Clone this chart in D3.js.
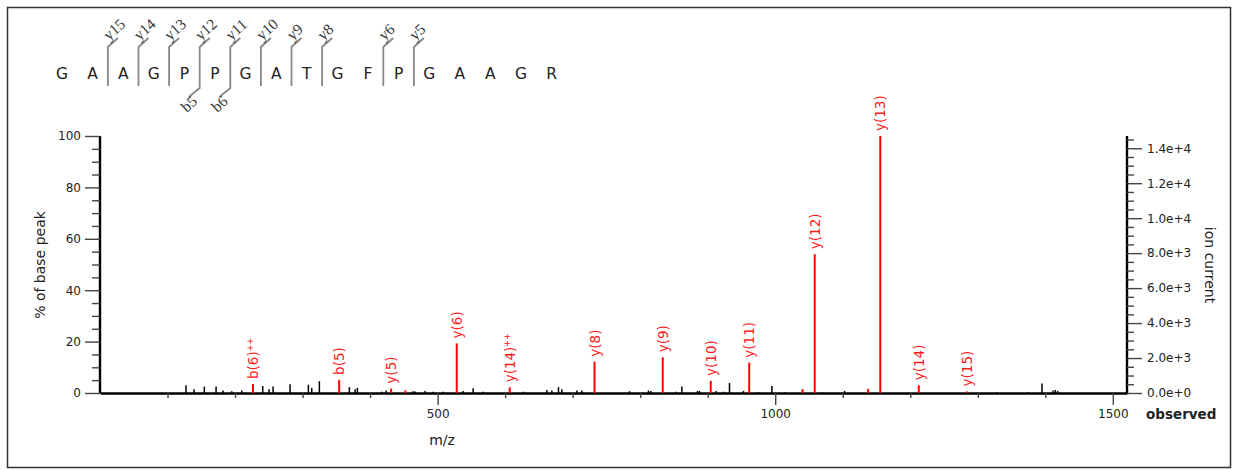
<!DOCTYPE html>
<html>
<head>
<meta charset="utf-8">
<script src="https://cdn.jsdelivr.net/npm/d3@7"></script>
<style>
  body { margin: 0; background: #fff; }
  svg { display: block; font-family: "DejaVu Sans", Verdana, sans-serif; }
</style>
</head>
<body>
<div class="spectrum"></div>
<script>
// peptide + fragment sites
var residues = ["G","A","A","G","P","P","G","A","T","G","F","P","G","A","A","G","R"];
var cutAfter = [2, 3, 4, 5, 6, 7, 8, 9, 11, 12];
var cutY = ["y15","y14","y13","y12","y11","y10","y9","y8","y6","y5"];
var cutB = ["", "", "", "b5", "b6", "", "", "", "", ""];

// matched (red) peaks
var ionMz  = [226.6, 354.2, 431.2, 452.2, 528.3, 606.8, 732.4, 833.4, 904.5, 961.5, 1040.5, 1058.5, 1137.6, 1155.6, 1212.6, 1283.6];
var ionPct = [3.5, 5.1, 1.7, 1.0, 19.3, 2.2, 12.2, 13.9, 4.7, 11.8, 1.5, 54, 1.6, 100, 3.0, 0.6];
var ionName = ["b(6)", "b(5)", "y(5)", "", "y(6)", "y(14)", "y(8)", "y(9)", "y(10)", "y(11)", "", "y(12)", "", "y(13)", "y(14)", "y(15)"];
var ionCharge = ["++", "", "", "", "", "++", "", "", "", "", "", "", "", "", "", ""];

// unmatched (black) peaks
var otherMz  = [127.4, 139.3, 154.5, 171.9, 182.2, 195.1, 209.9, 241.0, 250.4, 256.3, 281.5, 308.6, 313.6, 324.9,
                369.3, 377.8, 381.2, 417.3, 423.7, 463.7, 466.7, 481.5, 493.3, 508.1, 537.8, 552.6, 567.4, 627.1,
                661.8, 669.2, 679.0, 684.0, 706.2, 713.6, 784.1, 812.3, 815.9, 853.3, 861.8, 884.9, 887.9, 912.6,
                923.4, 932.3, 953.0, 975.3, 995.1, 1014.8, 1069.2, 1102.7, 1328.4, 1374.8, 1395.1, 1411.4, 1414.8, 1418.2];
var otherPct = [3.0, 1.5, 2.5, 2.5, 1.0, 0.7, 1.0, 2.7, 1.5, 2.5, 3.4, 3.2, 2.0, 4.6,
                2.3, 1.5, 2.0, 0.5, 1.0, 0.7, 0.6, 0.8, 0.5, 0.5, 0.8, 1.8, 0.5, 0.5,
                1.2, 1.0, 2.3, 1.5, 1.0, 1.0, 0.7, 1.0, 0.8, 0.5, 2.5, 0.8, 0.8, 0.8,
                0.5, 3.9, 0.8, 0.3, 2.7, 0.3, 0.3, 0.8, 0.3, 0.3, 3.7, 1.0, 1.2, 0.8];

var basePeak = 14700;   // ion current of the 100% peak

var w = 1238, h = 470;
var svg = d3.select(".spectrum").append("svg").attr("width", w).attr("height", h);

svg.append("rect").attr("x", 7.5).attr("y", 7.5).attr("width", 1223).attr("height", 460)
   .attr("fill", "none").attr("stroke", "#333").attr("stroke-width", 1.5);

// ---- sequence with fragment marks ----
var sx = d3.scaleLinear().domain([0, residues.length - 1]).range([62, 551.6]);

svg.append("g").selectAll("text").data(residues).enter().append("text")
   .attr("x", function(d, i) { return sx(i); })
   .attr("y", 79)
   .attr("text-anchor", "middle")
   .attr("font-size", 15.5)
   .attr("fill", "#222")
   .text(function(d) { return d; });

var cuts = svg.append("g").selectAll("g").data(cutAfter).enter().append("g")
   .attr("transform", function(d) { return "translate(" + (sx(d - 1) + sx(d)) / 2 + ",0)"; });

cuts.append("path")
   .attr("d", function(d, i) {
     var p = "M10,38L0,47L0,86";
     if (cutB[i]) p += "L0,88L-11,97";
     return p;
   })
   .attr("fill", "none").attr("stroke", "#888").attr("stroke-width", 1.8);

cuts.append("text")
   .attr("transform", "translate(1,41) rotate(-42)")
   .attr("font-family", "Liberation Serif, serif").attr("font-size", 15.5).attr("fill", "#333")
   .text(function(d, i) { return cutY[i]; });

cuts.append("text")
   .attr("transform", "translate(-13,113) rotate(-42)")
   .attr("font-family", "Liberation Serif, serif").attr("font-size", 15.5).attr("fill", "#333")
   .text(function(d, i) { return cutB[i]; });

// ---- spectrum ----
var x = d3.scaleLinear().domain([0, 1521]).range([100, 1127]);
var y = d3.scaleLinear().domain([0, 100]).range([393, 136]);
var yr = d3.scaleLinear().domain([0, basePeak]).range([393, 136]);

function expFmt(v) {
  if (v === 0) return "0.0e+0";
  var e = Math.floor(Math.log10(v));
  return (v / Math.pow(10, e)).toFixed(1) + "e+" + e;
}

var gx = svg.append("g").attr("transform", "translate(0,393)")
   .call(d3.axisBottom(x).tickValues(d3.range(100, 1600, 100)).tickSizeOuter(0)
         .tickFormat(function(d) { return d % 500 === 0 ? d : ""; }));
gx.selectAll(".tick line").attr("y2", function(d) { return d % 500 === 0 ? 12 : 5; });
gx.selectAll(".tick text").attr("y", 16).attr("font-size", 12);

var gl = svg.append("g").attr("transform", "translate(100,0)")
   .call(d3.axisLeft(y).tickValues(d3.range(0, 101, 5)).tickSizeOuter(0)
         .tickFormat(function(d) { return d % 20 === 0 ? d : ""; }));
gl.selectAll(".tick line").attr("x2", function(d) { return d % 20 === 0 ? -15 : -8; });
gl.selectAll(".tick text").attr("x", -19).attr("font-size", 12);

var gr = svg.append("g").attr("transform", "translate(1127,0)")
   .call(d3.axisRight(yr).tickValues(d3.range(0, 14501, 500)).tickSizeOuter(0)
         .tickFormat(function(d) { return d % 2000 === 0 ? expFmt(d) : ""; }));
gr.selectAll(".tick line").attr("x2", function(d) { return d % 2000 === 0 ? 15 : 7; });
gr.selectAll(".tick text").attr("x", 20).attr("font-size", 12);

svg.selectAll(".domain").attr("stroke", "#000").attr("stroke-width", 2.4);
svg.selectAll(".tick line").attr("stroke", "#444").attr("stroke-width", 1.4);
svg.selectAll(".tick text").attr("fill", "#222").attr("font-family", "DejaVu Sans, sans-serif");
gl.select(".domain").attr("d", "M0,136V393");
gr.select(".domain").attr("d", "M0,136V393");

svg.append("g").selectAll("line").data(otherMz).enter().append("line")
   .attr("x1", function(d) { return x(d); }).attr("x2", function(d) { return x(d); })
   .attr("y1", y(0))
   .attr("y2", function(d, i) { return y(otherPct[i]); })
   .attr("stroke", "#000").attr("stroke-width", 1.5);

svg.append("g").selectAll("line").data(ionMz).enter().append("line")
   .attr("x1", function(d) { return x(d); }).attr("x2", function(d) { return x(d); })
   .attr("y1", y(0))
   .attr("y2", function(d, i) { return y(ionPct[i]); })
   .attr("stroke", "#ff0000").attr("stroke-width", 2);

var lab = svg.append("g").selectAll("text").data(ionMz).enter().append("text")
   .attr("transform", function(d, i) {
     return "translate(" + (x(d) + 5) + "," + (y(ionPct[i]) - 5) + ") rotate(-90)";
   })
   .attr("font-size", 13.5).attr("fill", "#ff1a1a");
lab.append("tspan").text(function(d, i) { return ionName[i]; });
lab.append("tspan").attr("dy", -5).attr("font-size", 8)
   .text(function(d, i) { return ionName[i] ? ionCharge[i] : ""; });

// axis titles
svg.append("text").attr("transform", "translate(45,265) rotate(-90)")
   .attr("text-anchor", "middle").attr("font-size", 14).attr("fill", "#222").text("% of base peak");
svg.append("text").attr("transform", "translate(1205,265) rotate(90)")
   .attr("text-anchor", "middle").attr("font-size", 14).attr("fill", "#222").text("ion current");
svg.append("text").attr("x", 442).attr("y", 445)
   .attr("text-anchor", "middle").attr("font-size", 14).attr("fill", "#222").text("m/z");
svg.append("text").attr("x", 1146).attr("y", 419)
   .attr("font-size", 13.5).attr("font-weight", "bold").attr("fill", "#222").text("observed");
</script>
</body>
</html>
